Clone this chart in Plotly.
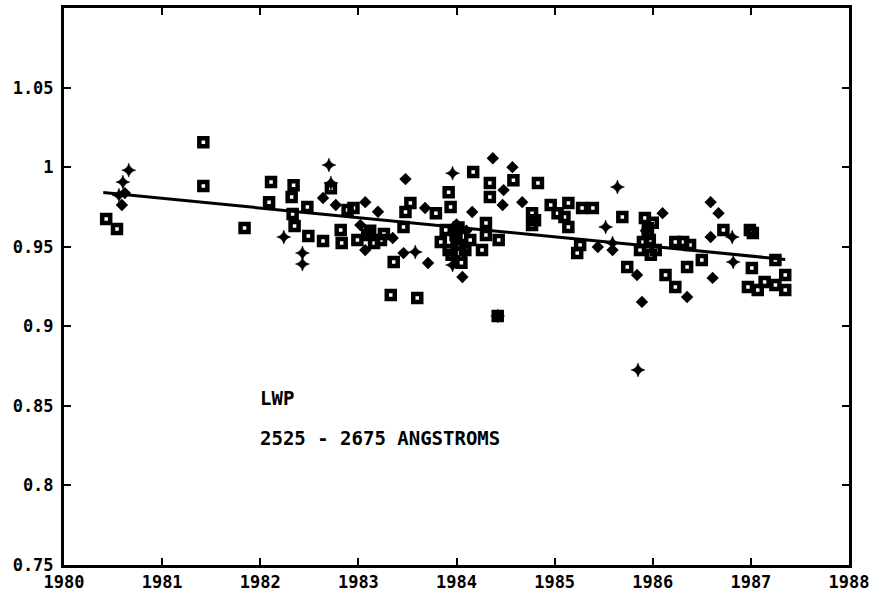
import plotly.graph_objects as go

# ---- data ----
sq_x = [1981.42, 1981.42, 1981.84, 1980.43, 1980.54, 1982.11, 1982.09, 1982.34, 1982.32, 1982.33,
        1982.35, 1982.49, 1982.64, 1982.48, 1982.72, 1982.89, 1982.95, 1982.82, 1982.83, 1982.99,
        1983.09, 1983.16, 1983.23, 1983.36, 1983.33, 1983.53, 1983.48, 1983.46, 1984.17, 1984.34,
        1984.34, 1984.58, 1984.83, 1983.92, 1983.94, 1983.79, 1983.89, 1983.99, 1984.04, 1983.92,
        1984.09, 1984.14, 1983.84, 1984.30, 1984.30, 1984.26, 1984.43, 1983.60, 1984.42, 1984.77,
        1984.77, 1984.96, 1985.03, 1985.14, 1985.28, 1985.39, 1985.14, 1985.69, 1985.92, 1985.95,
        1985.97, 1985.87, 1986.03, 1985.26, 1985.23, 1985.74, 1986.13, 1986.72, 1986.99, 1986.31,
        1986.23, 1986.38, 1986.50, 1986.35, 1986.23, 1987.01, 1987.25, 1986.97, 1987.07, 1987.25,
        1987.35, 1987.35, 1987.02, 1987.14, 1984.80, 1985.10, 1984.00, 1984.02, 1983.95, 1984.05,
        1985.95, 1985.90, 1986.00, 1985.98, 1983.12, 1983.26]
sq_y = [1.0157, 0.9881, 0.9617, 0.9674, 0.9611, 0.9906, 0.9780, 0.9887, 0.9812, 0.9705,
        0.9630, 0.9567, 0.9536, 0.9749, 0.9868, 0.9730, 0.9743, 0.9605, 0.9523, 0.9542,
        0.9573, 0.9523, 0.9542, 0.9404, 0.9197, 0.9774, 0.9718, 0.9624, 0.9969, 0.9900,
        0.9812, 0.9918, 0.9900, 0.9843, 0.9749, 0.9711, 0.9605, 0.9573, 0.9511, 0.9479,
        0.9479, 0.9542, 0.9529, 0.9649, 0.9573, 0.9479, 0.9542, 0.9178, 0.9065, 0.9711,
        0.9636, 0.9762, 0.9711, 0.9774, 0.9743, 0.9743, 0.9624, 0.9686, 0.9680, 0.9617,
        0.9542, 0.9479, 0.9479, 0.9511, 0.9460, 0.9373, 0.9322, 0.9605, 0.9605, 0.9529,
        0.9529, 0.9511, 0.9417, 0.9373, 0.9247, 0.9366, 0.9417, 0.9247, 0.9228, 0.9260,
        0.9322, 0.9228, 0.9586, 0.9279, 0.9667, 0.9686, 0.9550, 0.9620, 0.9450, 0.9400,
        0.9580, 0.9530, 0.9650, 0.9450, 0.9600, 0.9580]

dm_x = [1980.62, 1980.59, 1982.64, 1982.77, 1983.07, 1983.02, 1983.07, 1983.48, 1983.46, 1983.71,
        1983.68, 1984.16, 1983.99, 1984.06, 1984.37, 1984.57, 1984.48, 1984.47, 1984.67, 1985.44,
        1985.59, 1985.84, 1985.89, 1986.10, 1986.59, 1986.67, 1986.59, 1986.35, 1986.61, 1983.35,
        1983.20, 1984.00, 1984.10, 1984.08, 1985.93]
dm_y = [0.9837, 0.9762, 0.9806, 0.9762, 0.9780, 0.9636, 0.9479, 0.9925, 0.9460, 0.9398,
        0.9743, 0.9718, 0.9429, 0.9310, 1.0056, 1.0000, 0.9856, 0.9762, 0.9780, 0.9498,
        0.9479, 0.9322, 0.9153, 0.9711, 0.9780, 0.9711, 0.9561, 0.9184, 0.9304, 0.9555,
        0.9720, 0.9640, 0.9600, 0.9460, 0.9600]

pl_x = [1980.66, 1980.60, 1980.56, 1982.24, 1982.43, 1982.43, 1982.70, 1982.72, 1983.96, 1983.96,
        1984.42, 1985.64, 1985.85, 1986.81, 1986.82, 1985.59, 1983.58, 1985.52]
pl_y = [0.9981, 0.9906, 0.9824, 0.9561, 0.9460, 0.9391, 1.0013, 0.9900, 0.9962, 0.9385,
        0.9065, 0.9875, 0.8726, 0.9561, 0.9404, 0.9523, 0.9467, 0.9624]

fit_x = [1980.40, 1987.35]
fit_y = [0.984, 0.942]

x_ticks = [1980, 1981, 1982, 1983, 1984, 1985, 1986, 1987, 1988]
y_ticks = [0.75, 0.8, 0.85, 0.9, 0.95, 1.0, 1.05]
y_labels = ["0.75", "0.8", "0.85", "0.9", "0.95", "1", "1.05"]

label_lines = ["LWP", "2525 - 2675 ANGSTROMS"]

# ---- figure ----
fig = go.Figure()
fig.add_trace(go.Scatter(x=sq_x, y=sq_y, mode="markers",
                         marker=dict(symbol="square-open", size=8, color="black",
                                     line=dict(width=4.5, color="black"))))
fig.add_trace(go.Scatter(x=dm_x, y=dm_y, mode="markers",
                         marker=dict(symbol="diamond", size=9.5, color="black",
                                     line=dict(width=0))))
fig.add_trace(go.Scatter(x=pl_x, y=pl_y, mode="markers",
                         marker=dict(symbol="star-diamond", size=10, color="black",
                                     line=dict(width=0.5, color="black"))))
fig.add_trace(go.Scatter(x=fit_x, y=fit_y, mode="lines",
                         line=dict(color="black", width=3)))

font_ann = dict(family="DejaVu Sans Mono", size=19, color="black", weight="bold")
font_y = dict(family="DejaVu Sans Mono", size=17, color="black", weight="bold")
font_x = dict(family="DejaVu Sans Mono", size=17, color="black", weight="bold")

fig.add_annotation(x=1981.98, y=0.855, text=label_lines[0], showarrow=False,
                   xanchor="left", yanchor="middle", font=font_ann)
fig.add_annotation(x=1981.98, y=0.830, text=label_lines[1], showarrow=False,
                   xanchor="left", yanchor="middle", font=font_ann)

axis_common = dict(showgrid=False, zeroline=False, showline=True, linecolor="black",
                   linewidth=3, mirror="ticks", ticks="inside", ticklen=7, tickwidth=2,
                   tickcolor="black", automargin=False)

fig.update_layout(
    width=874, height=593,
    margin=dict(l=64, r=25, t=8, b=28),
    paper_bgcolor="white", plot_bgcolor="white",
    showlegend=False,
    xaxis=dict(range=[1980, 1988], tickvals=x_ticks, tickfont=font_x,
               ticktext=[str(t) for t in x_ticks], ticklabelstandoff=0, **axis_common),
    yaxis=dict(range=[0.75, 1.1], tickvals=y_ticks, ticktext=y_labels, tickfont=font_y,
               ticklabelstandoff=4, **axis_common),
)

fig.write_html("out.html")
